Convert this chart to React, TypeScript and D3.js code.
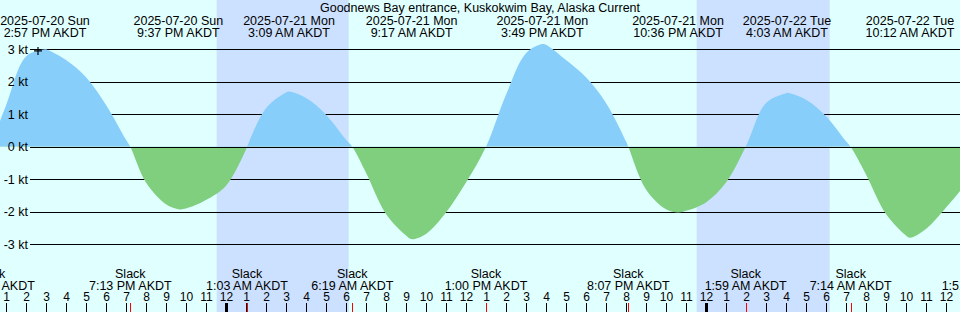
import React from "react";
import * as d3 from "d3";

const W = 960;
const H = 312;

const title = "Goodnews Bay entrance, Kuskokwim Bay, Alaska Current";

// hourly readings of the current, AKDT
const readingTimes = [
  "2025-07-20 12:00", "2025-07-20 13:00", "2025-07-20 14:00", "2025-07-20 15:00",
  "2025-07-20 16:00", "2025-07-20 17:00", "2025-07-20 18:00", "2025-07-20 19:00",
  "2025-07-20 20:00", "2025-07-20 21:00", "2025-07-20 22:00", "2025-07-20 23:00",
  "2025-07-21 00:00", "2025-07-21 01:00", "2025-07-21 02:00", "2025-07-21 03:00",
  "2025-07-21 04:00", "2025-07-21 05:00", "2025-07-21 06:00", "2025-07-21 07:00",
  "2025-07-21 08:00", "2025-07-21 09:00", "2025-07-21 10:00", "2025-07-21 11:00",
  "2025-07-21 12:00", "2025-07-21 14:00", "2025-07-21 15:00", "2025-07-21 16:00",
  "2025-07-21 17:00", "2025-07-21 18:00", "2025-07-21 19:00", "2025-07-21 20:00",
  "2025-07-21 21:00", "2025-07-21 22:00", "2025-07-21 23:00", "2025-07-22 00:00",
  "2025-07-22 01:00", "2025-07-22 03:00", "2025-07-22 04:00", "2025-07-22 05:00",
  "2025-07-22 06:00", "2025-07-22 07:00", "2025-07-22 08:00", "2025-07-22 09:00",
  "2025-07-22 10:00", "2025-07-22 11:00", "2025-07-22 12:00", "2025-07-22 13:00",
];
const readingKnots = [
  -0.3, 1.27, 2.78, 3.0,
  2.67, 2.14, 1.29, 0.22,
  -1.1, -1.77, -1.9, -1.64,
  -1.2, -0.08, 1.19, 1.67,
  1.5, 0.99, 0.22, -0.8,
  -2.07, -2.73, -2.68, -2.02,
  -1.1, 1.6, 2.88, 3.14,
  2.67, 2.14, 1.35, 0.17,
  -1.31, -1.92, -1.97, -1.71,
  -1.1, 1.35, 1.65, 1.45,
  0.94, 0.17, -0.85, -2.07,
  -2.73, -2.53, -1.87, -1.1,
];

// max flood / max ebb events
const maxTimes = [
  "2025-07-20 14:57", "2025-07-20 21:37", "2025-07-21 03:09", "2025-07-21 09:17",
  "2025-07-21 15:49", "2025-07-21 22:36", "2025-07-22 04:03", "2025-07-22 10:12",
];
const maxKnots = [3.0, -1.92, 1.7, -2.84, 3.16, -2.02, 1.66, -2.8];

// slack water events
const slackTimes = [
  "2025-07-20 12:12", "2025-07-20 19:13", "2025-07-21 01:03", "2025-07-21 06:19",
  "2025-07-21 13:00", "2025-07-21 20:07", "2025-07-22 01:59", "2025-07-22 07:14",
  "2025-07-22 13:51",
];

const sunsetTimes = ["2025-07-20 23:32", "2025-07-21 23:32"];
const sunriseTimes = ["2025-07-21 06:08", "2025-07-22 06:11"];

const knotTicks = [3, 2, 1, 0, -1, -2, -3];

const viewStart = "2025-07-20 12:42";
const viewEnd = "2025-07-22 12:42";

const nowTime = "2025-07-20 14:36";
const nowKnots = 2.95;

const parse = d3.utcParse("%Y-%m-%d %H:%M");
const fmtDate = d3.utcFormat("%Y-%m-%d %a");
const fmtTime = d3.utcFormat("%-I:%M %p AKDT");

const font = "'Liberation Sans', Arial, sans-serif";

export default function App() {
  const x = d3.scaleUtc()
    .domain([parse(viewStart)!, parse(viewEnd)!])
    .range([0, W]);
  const y = d3.scaleLinear().domain([-3, 3]).range([244.3, 49.3]);

  const series: [Date, number][] = [];
  readingTimes.forEach((t, i) => series.push([parse(t)!, readingKnots[i]]));
  maxTimes.forEach((t, i) => series.push([parse(t)!, maxKnots[i]]));
  slackTimes.forEach((t) => series.push([parse(t)!, 0]));
  series.sort((a, b) => +a[0] - +b[0]);

  // one smooth area round the zero line, split in two colours by clipping
  const area = d3.area<[Date, number]>()
    .x(d => x(d[0]))
    .y0(y(0))
    .y1(d => y(d[1]))
    .curve(d3.curveCatmullRom.alpha(0.5));
  const zeroY = y(0);

  const hours = x.ticks(d3.utcHour.every(1)!);
  const tickTop = 303;

  const nx = x(parse(nowTime)!);
  const ny = y(nowKnots);

  return (
    <div style={{ position: "absolute", left: 0, top: 0 }}>
      <svg width={W} height={H} style={{ display: "block" }} fontFamily={font}>
        <defs>
          <clipPath id="floodClip"><rect x={0} y={0} width={W} height={zeroY} /></clipPath>
          <clipPath id="ebbClip"><rect x={0} y={zeroY} width={W} height={H - zeroY} /></clipPath>
        </defs>
        <rect x={0} y={0} width={W} height={H} fill="#e0ffff" />
        {sunsetTimes.map((s, i) => {
          const x0 = x(parse(s)!);
          const x1 = x(parse(sunriseTimes[i])!);
          return <rect key={s} x={x0} y={0} width={x1 - x0} height={H} fill="#cce0ff" />;
        })}

        {knotTicks.filter(k => k !== 0).map(k => (
          <line key={k} x1={30} x2={W} y1={Math.round(y(k)) + 0.5} y2={Math.round(y(k)) + 0.5}
            stroke="#000" strokeWidth={1} />
        ))}

        <path d={area(series)!} fill="#87cefa" clipPath="url(#floodClip)" />
        <path d={area(series)!} fill="#7fcf7f" clipPath="url(#ebbClip)" />

        <line x1={30} x2={W} y1={Math.round(zeroY) + 0.5} y2={Math.round(zeroY) + 0.5}
          stroke="#000" strokeWidth={1} />

        {knotTicks.map(k => (
          <text key={k} x={28} y={y(k) + 4.5} textAnchor="end" fontSize={12.5} fill="#000">
            {k} kt
          </text>
        ))}

        <path d={`M${nx - 4},${ny}H${nx + 4}M${nx},${ny - 4}V${ny + 4}`} stroke="#000" strokeWidth={1.2} />

        <text x={W / 2} y={12} textAnchor="middle" fontSize={12.5} fill="#000">{title}</text>

        {maxTimes.map(t => {
          const d = parse(t)!;
          return (
            <g key={t}>
              <text x={x(d)} y={25} textAnchor="middle" fontSize={12.5}>{fmtDate(d)}</text>
              <text x={x(d)} y={36.5} textAnchor="middle" fontSize={12.5}>{fmtTime(d)}</text>
            </g>
          );
        })}

        {slackTimes.map(t => {
          const d = parse(t)!;
          return (
            <g key={t}>
              <text x={x(d)} y={278} textAnchor="middle" fontSize={12.5}>Slack</text>
              <text x={x(d)} y={289.5} textAnchor="middle" fontSize={12.5}>{fmtTime(d)}</text>
            </g>
          );
        })}

        {hours.map(h => {
          const hr = h.getUTCHours();
          const hx = Math.round(x(h)) + 0.5;
          return (
            <g key={+h}>
              <line x1={hx} x2={hx} y1={tickTop} y2={H} stroke="#000"
                strokeWidth={hr === 0 ? 3 : 1} />
              <text x={hx} y={300.5} textAnchor="middle" fontSize={12}>{hr % 12 || 12}</text>
            </g>
          );
        })}

        {slackTimes.map(t => {
          const sx = Math.round(x(parse(t)!)) + 0.5;
          return <line key={t} x1={sx} x2={sx} y1={tickTop} y2={H} stroke="#ff0000" strokeWidth={1} />;
        })}
      </svg>
    </div>
  );
}
